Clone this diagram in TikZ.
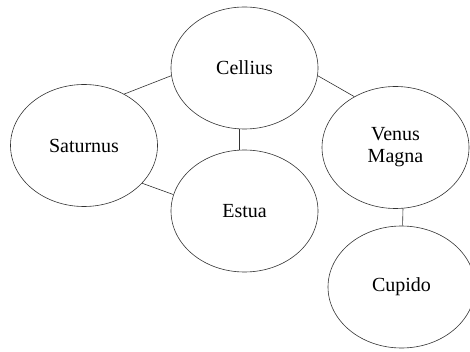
\documentclass[tikz,border=0pt]{standalone}
\usepackage{fontspec}
\setmainfont{Liberation Serif}
\usetikzlibrary{shapes.geometric,positioning}

\begin{document}
\begin{tikzpicture}[x=1pt,y=-1pt]
\tikzstyle{planet} = [draw=black!80,line width=0.6pt,ellipse,minimum width=147pt,minimum height=122pt,inner sep=0pt,align=center,font=\fontsize{20}{22}\selectfont]
\tikzstyle{link} = [draw=black!80,line width=0.6pt]
    \clip (0,0) rectangle (470,352);
    \node[planet] (Cellius) at (244.5,68) {Cellius};
    \node[planet] (Saturnus) at (84,145.5) {Saturnus};
    \node[planet] (Estua) at (244.5,211) {Estua};
    \node[planet] (Venus) at (395.5,147.5) {Venus\\Magna};
    \node[planet] (Cupido) at (401.5,287) {Cupido};

    \draw[link] (Cellius.186) -- (Saturnus.52);
    \draw[link] (Cellius.-6) -- (Venus.129);
    \draw[link] (Cellius.265) -- (Estua.95);
    \draw[link] (Saturnus.-33) -- (Estua.167);
    \draw[link] (Venus.-83) -- (Cupido.89);
\end{tikzpicture}
\end{document}
